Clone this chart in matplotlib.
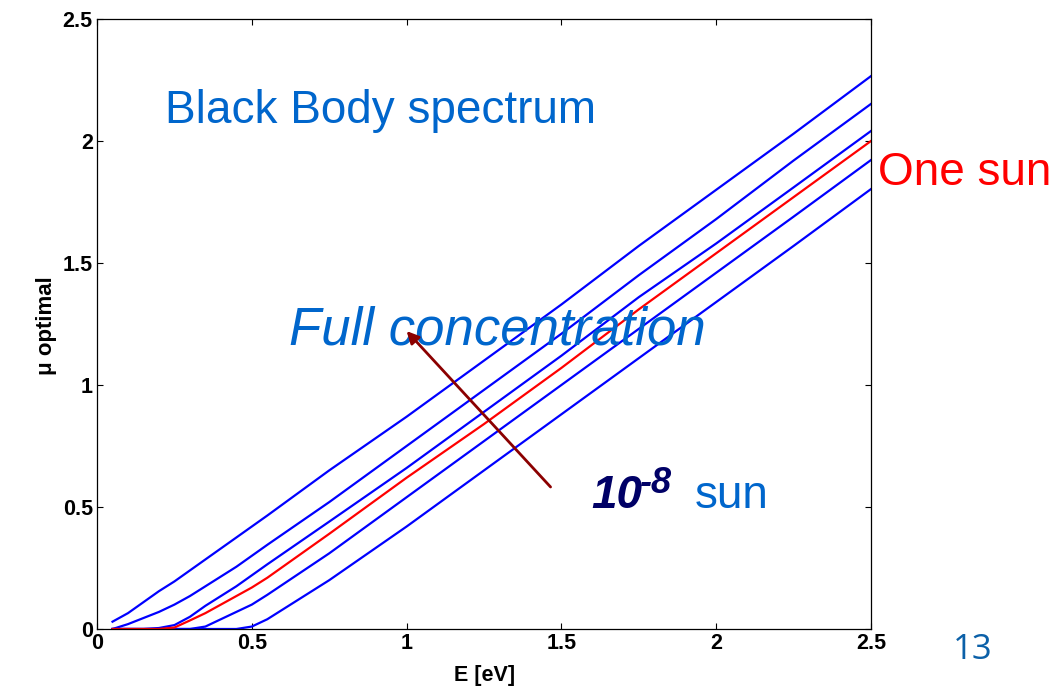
import matplotlib
matplotlib.use("Agg")
import matplotlib.pyplot as plt

plt.rcParams['font.family'] = ['Liberation Sans', 'DejaVu Sans']

# Energy grid (eV)
E = [0.05, 0.10, 0.15, 0.20, 0.25, 0.30, 0.35, 0.40, 0.45, 0.50, 0.55,
     0.75, 1.00, 1.25, 1.50, 1.75, 2.00, 2.25, 2.50]

# mu optimal curves (full concentration -> 1e-8 sun)
mu_c1 = [0.03, 0.065, 0.11, 0.155, 0.195, 0.24, 0.285, 0.33, 0.375, 0.42, 0.465,
         0.65, 0.87, 1.10, 1.33, 1.57, 1.80, 2.03, 2.266]
mu_c2 = [0.0, 0.02, 0.045, 0.07, 0.10, 0.135, 0.175, 0.215, 0.255, 0.30, 0.345,
         0.52, 0.75, 0.98, 1.21, 1.45, 1.68, 1.92, 2.152]
mu_c3 = [0.0, 0.0, 0.0, 0.004, 0.016, 0.05, 0.095, 0.135, 0.175, 0.22, 0.265,
         0.44, 0.66, 0.89, 1.12, 1.36, 1.58, 1.81, 2.041]
mu_sun = [0.0, 0.0, 0.0, 0.0, 0.006, 0.035, 0.065, 0.10, 0.135, 0.17, 0.21,
          0.39, 0.62, 0.84, 1.07, 1.31, 1.54, 1.77, 2.0]
mu_c5 = [0.0, 0.0, 0.0, 0.0, 0.0, 0.0, 0.01, 0.04, 0.07, 0.10, 0.14,
         0.31, 0.54, 0.77, 1.00, 1.23, 1.46, 1.69, 1.922]
mu_c6 = [0.0, 0.0, 0.0, 0.0, 0.0, 0.0, 0.0, 0.0, 0.0, 0.01, 0.04,
         0.20, 0.42, 0.65, 0.88, 1.11, 1.34, 1.57, 1.803]

blue_curves = [mu_c1, mu_c2, mu_c3, mu_c5, mu_c6]

fig = plt.figure(figsize=(10.64, 6.86), dpi=100)
ax = fig.add_axes([0.0912, 0.0831, 0.7274, 0.8892])

for c in blue_curves:
    ax.plot(E, c, color='#0000ff', lw=1.6)
ax.plot(E, mu_sun, color='#ff0000', lw=1.6)

ax.set_xlim(0, 2.5)
ax.set_ylim(0, 2.5)
ax.set_xticks([0, 0.5, 1, 1.5, 2, 2.5])
ax.set_yticks([0, 0.5, 1, 1.5, 2, 2.5])
ax.set_xticklabels(['0', '0.5', '1', '1.5', '2', '2.5'])
ax.set_yticklabels(['0', '0.5', '1', '1.5', '2', '2.5'])
ax.tick_params(direction='in', length=4, width=0.8, top=True, right=True,
               labelsize=15.5, pad=3)
for lab in ax.get_xticklabels() + ax.get_yticklabels():
    lab.set_fontweight('bold')
for s in ax.spines.values():
    s.set_linewidth(0.9)

ax.set_xlabel('E [eV]', fontsize=15.5, fontweight='bold', va='center')
ax.xaxis.set_label_coords(0.501, -0.0755)
ax.set_ylabel('μ optimal', fontsize=16, fontweight='bold', va='center')
ax.yaxis.set_label_coords(-0.0655, 0.498)

# Annotations
ax.text(0.219, 2.072, 'Black Body spectrum', fontsize=33, color='#0066cc',
        ha='left', va='baseline')
ax.text(0.62, 1.164, 'Full concentration', fontsize=38, color='#0066cc',
        style='italic', ha='left', va='baseline')
ax.text(2.523, 1.82, 'One sun', fontsize=33, color='#ff0000',
        ha='left', va='baseline', clip_on=False)
ax.text(1.597, 0.496, '10', fontsize=33, color='#000066', fontweight='bold',
        style='italic', ha='left', va='baseline')
ax.text(1.752, 0.557, '-8', fontsize=26, color='#000066', fontweight='bold',
        style='italic', ha='left', va='baseline')
ax.text(1.929, 0.496, 'sun', fontsize=33, color='#0066cc',
        ha='left', va='baseline')
ax.annotate('', xy=(1.0, 1.221), xytext=(1.465, 0.582),
            arrowprops=dict(arrowstyle='-|>', color='#8b0000', lw=2,
                            mutation_scale=18, shrinkA=0, shrinkB=0))

fig.text(0.9145, 0.0532, '13', fontsize=25, color='#0b60a8', ha='center',
         va='center', family='Open Sans')

fig.savefig('out.png', dpi=100)
